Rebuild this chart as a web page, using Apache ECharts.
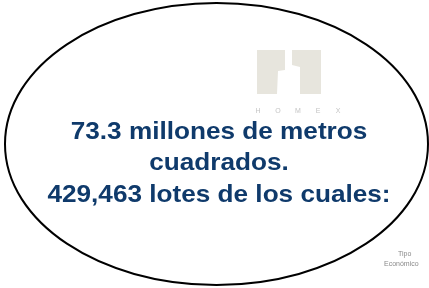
<!DOCTYPE html>
<html>
<head>
<meta charset="utf-8">
<script src="https://cdn.jsdelivr.net/npm/echarts@6/dist/echarts.min.js"></script>
<style>
html, body { margin: 0; padding: 0; background: #fff; }
#chart { width: 429px; height: 288px; }
</style>
</head>
<body>
<div id="chart"></div>
<script>
// datos
var metros = [73.3];
var lotes = [429463];
var lineas = [
	metros[0] + ' millones de metros',
	'cuadrados.',
	lotes[0].toLocaleString('en-US') + ' lotes de los cuales:'
];
var marca = ['H', 'O', 'M', 'E', 'X'];
var notaPie = ['Tipo', 'Económico'];

var chart = echarts.init(document.getElementById('chart'));

var elementos = [];
// elipse
elementos.push({
	type: 'ellipse',
	shape: { cx: 216.5, cy: 144, rx: 211.5, ry: 141 },
	style: { fill: '#fff', stroke: '#000', lineWidth: 2 }
});
// logo
elementos.push({
	type: 'polygon',
	shape: { points: [[257, 50], [285, 50], [285, 70], [278, 71], [277, 94], [257, 94]] },
	style: { fill: '#e7e5dd' }
});
elementos.push({
	type: 'polygon',
	shape: { points: [[292, 50], [321, 50], [321, 94], [300, 94], [300, 67], [292, 65]] },
	style: { fill: '#e7e5dd' }
});
marca.forEach(function(l, i) {
	elementos.push({
		type: 'text',
		x: 258 + i * 20,
		y: 111,
		style: { text: l, fill: '#c4c4c4', font: '7px "Liberation Sans"', align: 'center', verticalAlign: 'middle' }
	});
});
// texto principal
var baseY = [132, 163, 195];
lineas.forEach(function(t, i) {
	elementos.push({
		type: 'text',
		x: 219,
		y: baseY[i],
		scaleX: 1.09,
		style: {
			text: t,
			fill: '#0f3a6b',
			font: 'bold 24px "Liberation Sans", Arial',
			align: 'center',
			verticalAlign: 'middle'
		}
	});
});
// nota en la esquina
notaPie.forEach(function(t, i) {
	elementos.push({
		type: 'text',
		x: i == 0 ? 398 : 384,
		y: 254 + i * 10,
		style: { text: t, fill: '#8a8a8a', font: '7px "Liberation Sans"', verticalAlign: 'middle' }
	});
});

chart.setOption({
	animation: false,
	graphic: { elements: elementos }
});
</script>
</body>
</html>
